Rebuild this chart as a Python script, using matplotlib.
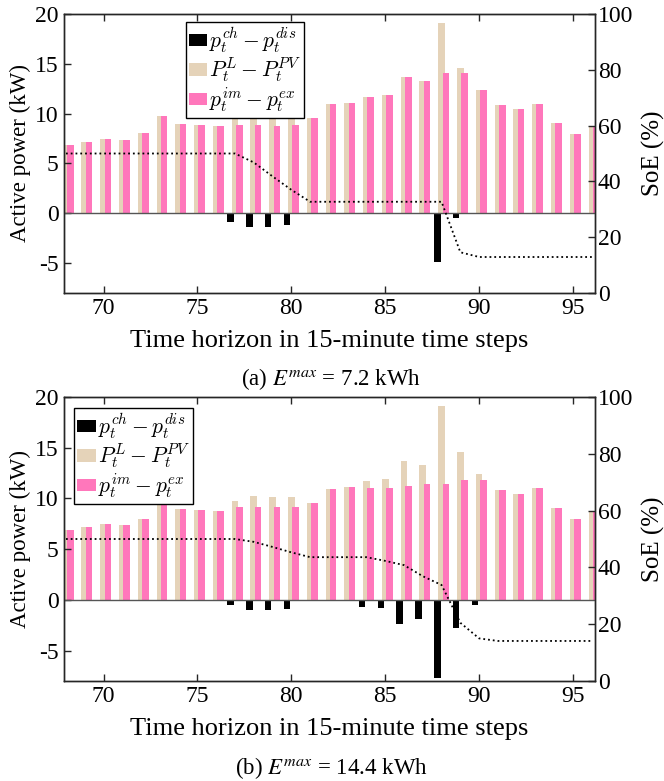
import numpy as np
import matplotlib
matplotlib.use("Agg")
import matplotlib.pyplot as plt

plt.rcParams['font.family'] = ['Liberation Serif', 'DejaVu Serif']
plt.rcParams['mathtext.fontset'] = 'cm'
plt.rcParams['axes.unicode_minus'] = False

# Data
steps = np.arange(68, 97)

# net load P^L - P^PV, same in both cases
net_load = [6.90, 7.15, 7.45, 7.38, 8.02, 9.75, 8.96, 8.86, 8.76, 9.75,
            10.26, 10.16, 10.10, 9.59, 10.97, 11.10, 11.71, 11.87, 13.65, 13.30,
            19.10, 14.60, 12.38, 10.87, 10.43, 11.00, 9.06, 7.96, 8.72]

# (a) E^max = 7.2 kWh
grid_a = [6.90, 7.15, 7.45, 7.38, 8.02, 9.75, 8.96, 8.86, 8.76, 8.84,
          8.84, 8.81, 8.88, 9.59, 10.97, 11.10, 11.71, 11.87, 13.65, 13.30,
          14.10, 14.10, 12.38, 10.87, 10.43, 11.00, 9.06, 7.96, 8.72]
bat_a = [0, 0, 0, 0, 0, 0, 0, 0, 0, -0.84,
         -1.37, -1.34, -1.21, 0, 0, 0, 0, 0, 0, 0,
         -4.92, -0.44, 0, 0, 0, 0, 0, 0, 0]
soe_a = [50, 50, 50, 50, 50, 50, 50, 50, 50, 50,
         46.8, 41.8, 37.0, 32.7, 32.7, 32.7, 32.7, 32.7, 32.7, 32.7,
         32.7, 14.6, 12.9, 12.9, 12.9, 12.9, 12.9, 12.9, 12.9]

# (b) E^max = 14.4 kWh
grid_b = [6.90, 7.15, 7.45, 7.38, 8.02, 9.75, 8.96, 8.86, 8.76, 9.15,
          9.15, 9.15, 9.19, 9.59, 10.97, 11.10, 11.03, 11.03, 11.26, 11.39,
          11.39, 11.84, 11.84, 10.87, 10.43, 11.00, 9.06, 7.96, 8.72]
bat_b = [0, 0, 0, 0, 0, 0, 0, 0, 0, -0.55,
         -1.04, -1.01, -0.91, 0, 0, 0, -0.68, -0.85, -2.35, -1.90,
         -7.69, -2.74, -0.49, 0, 0, 0, 0, 0, 0]
soe_b = [50, 50, 50, 50, 50, 50, 50, 50, 50, 50,
         49.0, 47.2, 45.3, 43.6, 43.6, 43.6, 43.6, 42.3, 40.8, 36.9,
         33.8, 20.5, 15.0, 14.1, 14.1, 14.1, 14.1, 14.1, 14.1]

captions = [r"(a) $E^{max}$ = 7.2 kWh", r"(b) $E^{max}$ = 14.4 kWh"]
legend_labels = [r"$p_t^{ch}-p_t^{dis}$", r"$P_t^{L}-P_t^{PV}$", r"$p_t^{im}-p_t^{ex}$"]

beige = '#E5D3B9'
pink = '#FF77BB'
spine_col = '#262626'

fig = plt.figure(figsize=(6.64, 7.81), dpi=100)
W, H = 664, 781


def px_axes(left, top, right, bottom):
    return fig.add_axes([left / W, 1 - bottom / H, (right - left) / W, (bottom - top) / H])


def draw_panel(ax, grid, bat, soe, leg_pos):
    ax.bar(steps - 0.23, bat, width=0.35, color='k', linewidth=0, label=legend_labels[0])
    ax.bar(steps, net_load, width=0.35, color=beige, linewidth=0, label=legend_labels[1])
    ax.bar(steps + 0.23, grid, width=0.35, color=pink, linewidth=0, label=legend_labels[2])
    ax.axhline(0, color='#555555', lw=1.0, zorder=3)
    ax.set_xlim(67.87, 96.17)
    ax.set_ylim(-8, 20)
    ax.set_xticks([70, 75, 80, 85, 90, 95])
    ax.set_yticks([-5, 0, 5, 10, 15, 20])
    ax.set_ylabel('Active power (kW)', fontsize=16.5, labelpad=3)
    ax.set_xlabel('Time horizon in 15-minute time steps', fontsize=19, labelpad=8)
    ax.tick_params(direction='in', top=True, right=False, labelsize=17,
                   length=5, width=1, colors=spine_col, labelcolor='k')
    for s in ax.spines.values():
        s.set_color(spine_col)
        s.set_linewidth(1)

    ax2 = ax.twinx()
    ax2.plot(steps, soe, color='k', ls=':', lw=1.3)
    ax2.set_ylim(0, 100)
    ax2.set_yticks([0, 20, 40, 60, 80, 100])
    ax2.set_ylabel('SoE (%)', fontsize=18, labelpad=6)
    ax2.tick_params(direction='in', labelsize=17, length=5, width=1,
                    colors=spine_col, labelcolor='k', pad=2)
    for s in ax2.spines.values():
        s.set_color(spine_col)
        s.set_linewidth(1)

    leg = ax.legend(loc='upper left', bbox_to_anchor=leg_pos, fontsize=15.5,
                    frameon=True, fancybox=False, framealpha=1, edgecolor='k',
                    handlelength=0.85, handleheight=0.5, handletextpad=0.1,
                    borderpad=0.15, labelspacing=0.02, borderaxespad=0)
    leg.get_frame().set_linewidth(1)
    leg.set_zorder(5)
    return ax2


ax_a = px_axes(63.5, 14, 595, 293)
draw_panel(ax_a, grid_a, bat_a, soe_a, (0.230, 0.970))
fig.text(331 / W, 1 - 379 / H, captions[0], ha='center', va='center', fontsize=16.5,
         math_fontfamily='stix')

ax_b = px_axes(63.5, 397, 595, 681)
draw_panel(ax_b, grid_b, bat_b, soe_b, (0.020, 0.960))
fig.text(331 / W, 1 - 768 / H, captions[1], ha='center', va='center', fontsize=16.5,
         math_fontfamily='stix')

fig.savefig('out.png', dpi=100)
